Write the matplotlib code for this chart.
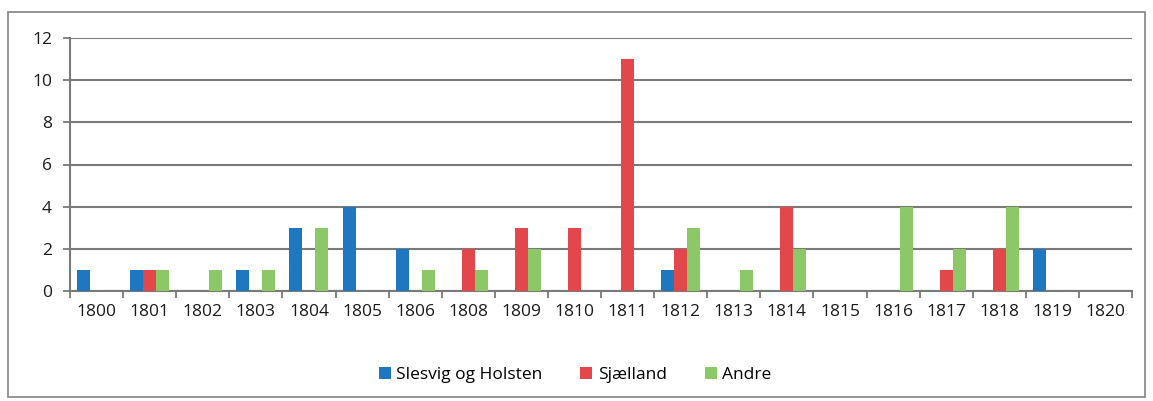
import numpy as np
import matplotlib.pyplot as plt
from matplotlib.patches import Rectangle

years = ['1800', '1801', '1802', '1803', '1804', '1805', '1806', '1808', '1809', '1810',
         '1811', '1812', '1813', '1814', '1815', '1816', '1817', '1818', '1819', '1820']
slesvig = [1, 1, 0, 1, 3, 4, 2, 0, 0, 0, 0, 1, 0, 0, 0, 0, 0, 0, 2, 0]
sjaelland = [0, 1, 0, 0, 0, 0, 0, 2, 3, 3, 11, 2, 0, 4, 0, 0, 1, 2, 0, 0]
andre = [0, 1, 1, 1, 3, 0, 1, 1, 2, 0, 0, 3, 1, 2, 0, 4, 2, 4, 0, 0]

series = [('Slesvig og Holsten', slesvig, '#1f77c0'),
          ('Sjælland', sjaelland, '#e2484b'),
          ('Andre', andre, '#8cc768')]

plt.rcParams['font.family'] = ['Open Sans', 'DejaVu Sans']

fig = plt.figure(figsize=(11.53, 4.01), dpi=100)
fig.patches.append(Rectangle((8 / 1153, 1 - 397 / 401), 1137 / 1153, 385 / 401,
                             transform=fig.transFigure, fill=False,
                             edgecolor='#8c8c8c', linewidth=1.3))
ax = fig.add_axes([70 / 1153, 1 - 291 / 401, 1062 / 1153, 253 / 401])

x = np.arange(len(years))
w = 0.245
for i, (name, vals, col) in enumerate(series):
    ax.bar(x + (i - 1) * w, vals, width=w, color=col, label=name, zorder=3)

ax.set_xlim(-0.5, len(years) - 0.5)
ax.set_ylim(0, 12)
ax.set_yticks(range(0, 13, 2))
ax.yaxis.grid(True, color='#7a7a7a', linewidth=1.5, zorder=0)
ax.set_xticks(x)
ax.set_xticklabels(years)
ax.set_xticks(np.arange(-0.5, len(years)), minor=True)
ax.tick_params(axis='x', which='major', length=0, pad=9, labelsize=12.5, colors='#1a1a1a')
ax.tick_params(axis='x', which='minor', length=5, direction='out', color='#7a7a7a', width=1.3)
ax.tick_params(axis='y', length=5, color='#7a7a7a', width=1.3, labelsize=12.5, colors='#1a1a1a', pad=8)

for s in ['top', 'right']:
    ax.spines[s].set_visible(False)
for s in ['left', 'bottom']:
    ax.spines[s].set_color('#7a7a7a')
    ax.spines[s].set_linewidth(1.5)

fig.legend(loc='center', bbox_to_anchor=(575 / 1153, 1 - 375 / 401), ncol=3,
           frameon=False, fontsize=12.5, handlelength=0.7, handleheight=0.7,
           handletextpad=0.3, columnspacing=2.2)

fig.savefig('out.png', dpi=100)
